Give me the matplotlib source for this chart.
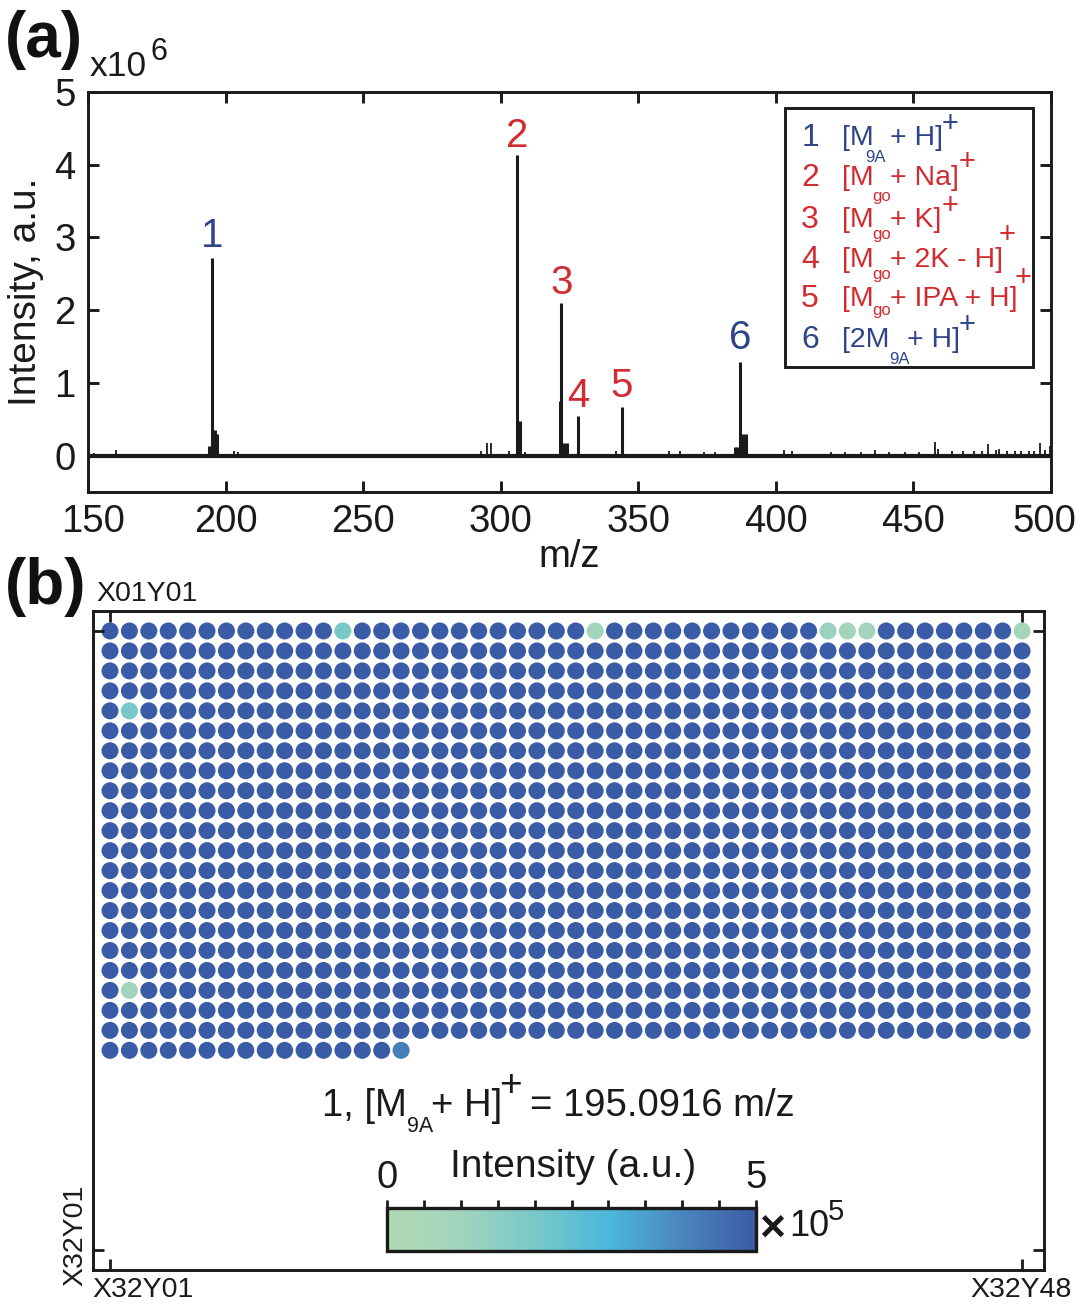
import numpy as np
import matplotlib
matplotlib.use('Agg')
import matplotlib.pyplot as plt
from matplotlib.colors import LinearSegmentedColormap, Normalize
from matplotlib.cm import ScalarMappable
from matplotlib.patches import Rectangle
from matplotlib.transforms import ScaledTranslation

# --- spectrum (a): m/z and intensity in units of 1e6 ---
peak_mz = [194, 195.1, 196, 197, 306, 307, 321.5, 322, 323, 324, 328, 344,
           385, 386, 387, 388, 389]
peak_int = [0.13, 2.72, 0.35, 0.3, 4.13, 0.47, 0.75, 2.1, 0.17, 0.17, 0.54, 0.67,
            0.12, 0.12, 1.29, 0.3, 0.3]
minor_mz = [152, 160, 203, 204.5, 293, 295, 296.5, 303, 309, 342, 361, 365, 374,
            378, 403, 406, 420, 436, 458, 459, 477, 480, 481, 484, 489, 496, 499.5,
            425, 431, 441, 447, 452, 464, 468, 472, 475, 487, 492, 494, 498]
minor_int = [0.04, 0.08, 0.07, 0.05, 0.06, 0.17, 0.17, 0.07, 0.05, 0.06, 0.06, 0.06, 0.05,
             0.05, 0.08, 0.07, 0.05, 0.08, 0.19, 0.09, 0.16, 0.08, 0.09, 0.07, 0.07, 0.17, 0.13,
             0.05, 0.05, 0.05, 0.05, 0.05, 0.06, 0.06, 0.06, 0.07, 0.07, 0.07, 0.07, 0.08]
base_mz = [150, 500]
base_int = [0.0, 0.0]

ion_ids = ['1', '2', '3', '4', '5', '6']
ion_mz = [195.1, 306, 322, 328, 344, 387]
ion_top = [2.76, 4.13, 2.11, 0.56, 0.7, 1.35]
ion_blue = [True, False, False, False, False, True]

# --- wafer map (b) ---
n_cols = 48
full_rows = 21
last_row_cols = 16
base_level = 5.0
odd_rows = [1, 1, 1, 1, 1, 1, 5, 19, 22]
odd_cols = [13, 26, 38, 39, 40, 48, 2, 2, 16]
odd_vals = [2.0, 1.0, 1.2, 0.9, 0.9, 0.7, 2.0, 1.0, 4.2]

cmap_colors = ['#b0d9b4', '#a2d4bd', '#78c8c8', '#4cb8dc', '#4a86bd', '#3a5ca6']
W, H = 1080, 1305
BLACK = '#1a1a1a'
BLUE = '#2f4489'
RED = '#d22b30'

plt.rcParams['font.family'] = ['Liberation Sans', 'DejaVu Sans']
plt.rcParams['axes.linewidth'] = 2.1
fig = plt.figure(figsize=(W / 100, H / 100), dpi=100)


def box(left, top, right, bottom):
    return [left / W, 1 - bottom / H, (right - left) / W, (bottom - top) / H]


def put(x, y, s, size=20.5, color=BLACK, ha='left', va='center', **kw):
    fig.text(x / W, 1 - y / H, s, fontsize=size, color=color, ha=ha, va=va, **kw)


# panel a
ax1 = fig.add_axes(box(88, 92, 1051, 492))
ax1.plot(base_mz, base_int, color=BLACK, lw=3, solid_capstyle='butt', zorder=3)
ax1.vlines(peak_mz, 0, peak_int, color=BLACK, lw=2.2)
ax1.vlines(minor_mz, 0, minor_int, color=BLACK, lw=1.3)
ax1.set_xlim(150, 500)
ax1.set_ylim(-0.5, 5)
ax1.set_xticks(np.arange(150, 501, 50))
ax1.set_yticks(range(6))
ax1.tick_params(direction='in', top=True, right=True, length=8, width=2.1,
                labelsize=27.5, labelcolor=BLACK, color=BLACK, pad=9)
ax1.set_xlabel('m/z', fontsize=27.5, color=BLACK, labelpad=-1)
ax1.set_ylabel('Intensity, a.u.', fontsize=28, color=BLACK, labelpad=7)
for spine in ax1.spines.values():
    spine.set_color(BLACK)
# end labels sit inside the axis ends in the original
xlabels = ax1.get_xticklabels()
xlabels[0].set_transform(xlabels[0].get_transform() + ScaledTranslation(5 / 100, 0, fig.dpi_scale_trans))
xlabels[-1].set_transform(xlabels[-1].get_transform() + ScaledTranslation(-7 / 100, 0, fig.dpi_scale_trans))
for name, mz, top, blue in zip(ion_ids, ion_mz, ion_top, ion_blue):
    ax1.text(mz, top, name, fontsize=29, color=BLUE if blue else RED, ha='center', va='bottom')

# legend box drawn by hand, the labels have offset sub and superscripts
fig.add_artist(Rectangle((785 / W, 1 - 367 / H), 248 / W, 259 / H, transform=fig.transFigure,
                         facecolor='white', edgecolor=BLACK, lw=2.1))
rows = [
    ('1', BLUE, 138, '[M', 842, '9A', 875, 158, '+ H]', 890, 950, 124),
    ('2', RED, 178, '[M', 842, 'go', 882, 197, '+ Na]', 890, 967, 162),
    ('3', RED, 220, '[M', 842, 'go', 882, 235, '+ K]', 890, 950, 206),
    ('4', RED, 260, '[M', 842, 'go', 882, 274, '+ 2K - H]', 890, 1007, 235),
    ('5', RED, 299, '[M', 842, 'go', 882, 310, '+ IPA + H]', 890, 1023, 278),
    ('6', BLUE, 340, '[2M', 842, '9A', 899, 359, '+ H]', 907, 967, 325),
]
for num, col, y, head, hx, sub, sx, sy, tail, tx, px, py in rows:
    put(810, y, num, size=23, color=col, ha='center')
    put(hx, y, head, color=col)
    put(sx, sy, sub, size=12, color=col, ha='center')
    put(tx, y, tail, color=col)
    put(px, py, '+', size=21, color=col, ha='center')

put(5, 40, '(a)', size=46, weight='bold', color='#111111')
put(90, 66, 'x10', size=25.5)
put(151, 52, '6', size=22)

# panel b
ax2 = fig.add_axes(box(93, 611, 1044, 1270))
rr, cc = [], []
for r in range(1, full_rows + 1):
    for c in range(1, n_cols + 1):
        rr.append(r)
        cc.append(c)
for c in range(1, last_row_cols + 1):
    rr.append(full_rows + 1)
    cc.append(c)
vals = np.full(len(rr), base_level)
for r, c, v in zip(odd_rows, odd_cols, odd_vals):
    vals[(r - 1) * n_cols + c - 1] = v

cmap = LinearSegmentedColormap.from_list('wafer', cmap_colors)
norm = Normalize(0, 5)
ax2.scatter(cc, rr, c=vals, s=150, cmap=cmap, norm=norm, linewidths=0)
ax2.set_xlim(0.124, 49.13)
ax2.set_ylim(33, 0)
ax2.set_xticks([1, 48])
ax2.set_yticks([1, 32])
ax2.set_xticklabels([])
ax2.set_yticklabels([])
ax2.tick_params(direction='in', top=True, right=True, length=8, width=2, color=BLACK)
for spine in ax2.spines.values():
    spine.set_color(BLACK)

put(5, 587, '(b)', size=46, weight='bold', color='#111111')
put(96, 594, 'X01Y01')
put(92, 1290, 'X32Y01')
put(1072, 1290, 'X32Y48', ha='right')
put(75, 1235, 'X32Y01', ha='center', rotation=90)

put(322, 1106, '1, [M', size=27.5)
put(420, 1126, '9A', size=15.5, ha='center')
put(431, 1106, '+ H]', size=27.5)
put(510, 1086, '+', size=28, ha='center')
put(530, 1106, '= 195.0916 m/z', size=27.5)
put(573, 1167, 'Intensity (a.u.)', size=28, ha='center')

# colour bar
cax = fig.add_axes(box(387, 1208, 756, 1251))
cb = fig.colorbar(ScalarMappable(norm=norm, cmap=cmap), cax=cax, orientation='horizontal')
cb.set_ticks(np.arange(0, 5.01, 0.5))
cb.set_ticklabels(['0', '', '', '', '', '', '', '', '', '', '5'])
cax.xaxis.set_ticks_position('top')
cax.tick_params(direction='out', length=6, width=2, labelsize=27.5, labelcolor=BLACK, color=BLACK, pad=3)
cb.outline.set_linewidth(2.4)
cb.outline.set_edgecolor(BLACK)
put(772, 1229, '×', size=32, weight='bold', ha='center')
put(789, 1226, '10', size=26)
put(828, 1212, '5', size=21)

fig.savefig('out.png', dpi=100, facecolor='white')
